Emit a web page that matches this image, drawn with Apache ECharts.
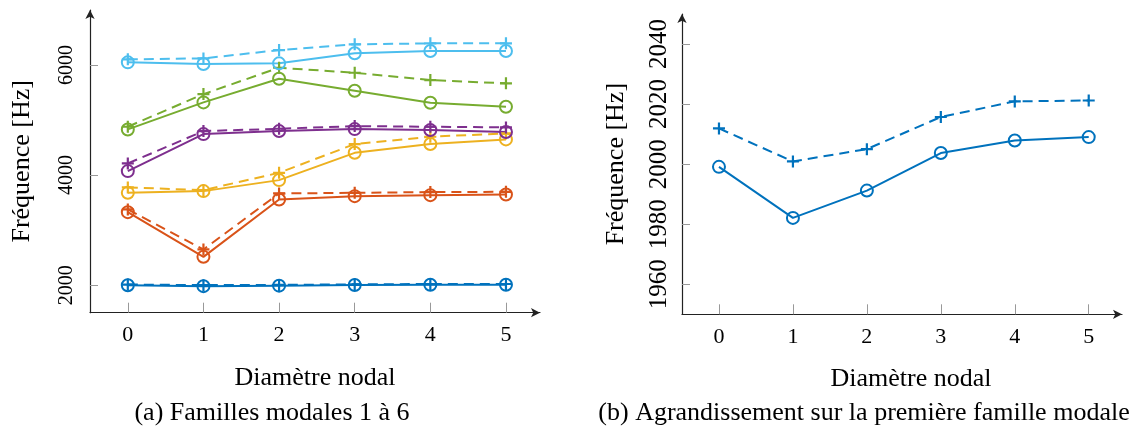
<!DOCTYPE html>
<html>
<head>
<meta charset="utf-8">
<script src="https://cdn.jsdelivr.net/npm/echarts@6/dist/echarts.min.js"></script>
<style>
html,body{margin:0;padding:0;background:#fff;}
#chart{width:1135px;height:433px;}
</style>
</head>
<body>
<div id="chart"></div>
<script>
// ---- data ----
const nodalDiameters = [0, 1, 2, 3, 4, 5];
const xTickLabels = ['0', '1', '2', '3', '4', '5'];
const leftYTicks = [2000, 4000, 6000];
const rightYTicks = [1960, 1980, 2000, 2020, 2040];

// family 1 (blue)
const fam1Solid  = [1999.1, 1982.1, 1991.2, 2003.7, 2007.9, 2009.0];
const fam1Dashed = [2011.9, 2000.9, 2005.0, 2015.7, 2020.9, 2021.2];
// family 2 (orange)
const fam2Solid  = [3327, 2515, 3558, 3618, 3636, 3649];
const fam2Dashed = [3376, 2649, 3667, 3678, 3691, 3697];
// family 3 (yellow)
const fam3Solid  = [3678, 3709, 3909, 4405, 4564, 4649];
const fam3Dashed = [3776, 3727, 4042, 4564, 4697, 4758];
// family 4 (purple)
const fam4Solid  = [4073, 4745, 4800, 4836, 4818, 4782];
const fam4Dashed = [4212, 4800, 4842, 4891, 4879, 4867];
// family 5 (green)
const fam5Solid  = [4830, 5321, 5751, 5533, 5314, 5241];
const fam5Dashed = [4879, 5472, 5951, 5860, 5727, 5667];
// family 6 (light blue)
const fam6Solid  = [6049, 6018, 6031, 6213, 6254, 6254];
const fam6Dashed = [6103, 6121, 6272, 6376, 6394, 6394];

const yLabel = 'Fréquence [Hz]';
const xLabel = 'Diamètre nodal';
const captionA = '(a) Familles modales 1 à 6';
const captionB = '(b) Agrandissement sur la première famille modale';

// ---- styling ----
const colors = ['#0072BD', '#D95319', '#EDB120', '#7E2F8E', '#77AC30', '#4DBEEE'];
const FONT = '"Liberation Serif", "Times New Roman", serif';
const PLUS = 'path://M0,5L10,5M5,0L5,10';

function pairs(ys) { return nodalDiameters.map((x, i) => [x, ys[i]]); }

function solidSeries(ys, c, idx) {
  return {
    type: 'line', xAxisIndex: idx, yAxisIndex: idx, data: pairs(ys),
    symbol: 'circle', symbolSize: 12, showAllSymbol: true,
    lineStyle: { color: c, width: 2, type: 'solid' },
    itemStyle: { color: 'rgba(0,0,0,0)', borderColor: c, borderWidth: 2 },
    emphasis: { disabled: true }, silent: true, animation: false
  };
}
function dashedSeries(ys, c, idx) {
  return {
    type: 'line', xAxisIndex: idx, yAxisIndex: idx, data: pairs(ys),
    symbol: PLUS, symbolSize: 12, showAllSymbol: true,
    lineStyle: { color: c, width: 2, type: [10, 6] },
    itemStyle: { color: 'rgba(0,0,0,0)', borderColor: c, borderWidth: 2.2 },
    emphasis: { disabled: true }, silent: true, animation: false
  };
}

function xAxisDef(idx, namePad) {
  return {
    type: 'value', gridIndex: idx, min: -0.5, max: 5.45,
    name: xLabel, nameLocation: 'middle', nameGap: 52,
    nameTextStyle: { fontFamily: FONT, fontSize: 26, color: '#000', padding: [0, 0, 0, namePad] },
    axisLine: { show: true, onZero: false, lineStyle: { color: '#222', width: 1.2 },
      symbol: ['none', 'arrow'], symbolSize: [7, 9] },
    axisTick: { show: true, inside: true, length: 10, customValues: nodalDiameters,
      lineStyle: { color: '#999', width: 1 } },
    axisLabel: { show: true, customValues: nodalDiameters, margin: 12,
      formatter: v => xTickLabels[nodalDiameters.indexOf(v)],
      fontFamily: FONT, fontSize: 22, color: '#000' },
    splitLine: { show: false }
  };
}
function yAxisDef(idx, min, max, ticks, fs, margin, nameGap) {
  return {
    type: 'value', gridIndex: idx, min: min, max: max,
    name: yLabel, nameLocation: 'middle', nameGap: nameGap,
    nameTextStyle: { fontFamily: FONT, fontSize: 26, color: '#000' },
    axisLine: { show: true, onZero: false, lineStyle: { color: '#222', width: 1.2 },
      symbol: ['none', 'arrow'], symbolSize: [7, 9] },
    axisTick: { show: true, inside: true, length: 8, customValues: ticks,
      lineStyle: { color: '#999', width: 1 } },
    axisLabel: { show: true, customValues: ticks, rotate: 90, margin: margin,
      formatter: v => String(v),
      fontFamily: FONT, fontSize: fs, color: '#000' },
    splitLine: { show: false }
  };
}

const leftFamilies = [
  [fam1Solid, fam1Dashed], [fam2Solid, fam2Dashed], [fam3Solid, fam3Dashed],
  [fam4Solid, fam4Dashed], [fam5Solid, fam5Dashed], [fam6Solid, fam6Dashed]
];
const series = [];
leftFamilies.forEach((f, i) => {
  series.push(solidSeries(f[0], colors[i], 0));
  series.push(dashedSeries(f[1], colors[i], 0));
});
series.push(solidSeries(fam1Solid, colors[0], 1));
series.push(dashedSeries(fam1Dashed, colors[0], 1));

const chart = echarts.init(document.getElementById('chart'), null, { renderer: 'canvas' });
chart.setOption({
  backgroundColor: '#fff',
  animation: false,
  grid: [
    { left: 90, top: 10, width: 450, height: 302.7, containLabel: false },
    { left: 682, top: 14, width: 440, height: 300.3, containLabel: false }
  ],
  xAxis: [xAxisDef(0, 0), xAxisDef(1, 18)],
  yAxis: [
    yAxisDef(0, 1500, 7000, leftYTicks, 20, 13, 55),
    yAxisDef(1, 1950, 2050, rightYTicks, 25, 10, 53)
  ],
  series: series,
  graphic: [
    { type: 'text', x: 272, y: 413,
      style: { text: captionA, font: '26px ' + FONT, fill: '#000', align: 'center', verticalAlign: 'middle' } },
    { type: 'text', x: 864, y: 413,
      style: { text: captionB, font: '26px ' + FONT, fill: '#000', align: 'center', verticalAlign: 'middle' } }
  ]
});
</script>
</body>
</html>
